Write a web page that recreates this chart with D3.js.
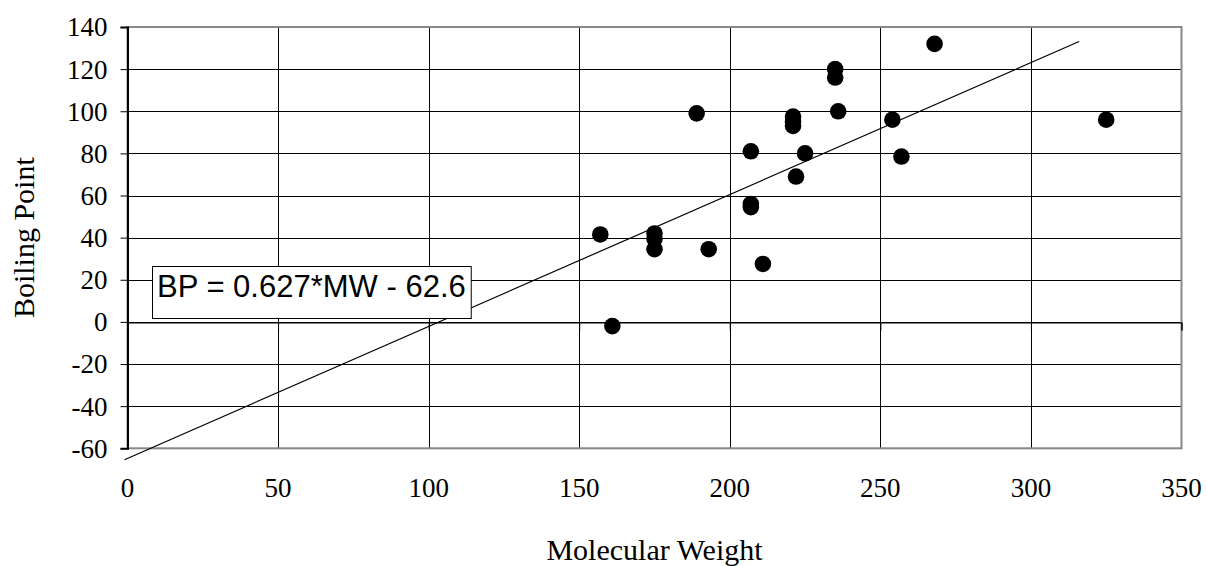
<!DOCTYPE html>
<html lang="en">
<head>
	<meta charset="utf-8">
	<script src='https://d3js.org/d3.v7.min.js'></script>
	<style>
		body { margin: 0; background: #fff; }
		svg { display: block; }
	</style>
</head>
<body>
	<script>
		var width = 1206,
			height = 566;

		// data
		var mw = [189, 207, 268, 235, 235, 236, 221, 221, 221, 225, 222, 254, 257, 325,
			157, 175, 175, 175, 193, 207, 207, 211, 161];
		var bp = [99, 81, 132, 120, 116, 100, 97.5, 95, 93, 80, 69, 96, 78.5, 96,
			41.5, 42, 39.5, 34.5, 34.5, 56, 54.5, 27.5, -2];
		var trendMW = [-1, 316];
		var trendBP = [-65.4, 133.1];
		var xTicks = [0, 50, 100, 150, 200, 250, 300, 350];
		var yTicks = [-60, -40, -20, 0, 20, 40, 60, 80, 100, 120, 140];
		var fitLabel = 'BP = 0.627*MW - 62.6';

		var serif = "'Times New Roman', 'Liberation Serif', serif";
		var sans = "Arial, 'Liberation Sans', sans-serif";

		var svg = d3.select('body')
			.append('svg')
			.attr('width', width)
			.attr('height', height);

		var x = d3.scaleLinear().domain([0, 350]).range([127.5, 1181.5]);
		var y = d3.scaleLinear().domain([-60, 140]).range([448.3, 27]);

		// grid
		svg.append('g').selectAll('line')
			.data(yTicks)
			.join('line')
			.attr('x1', x(0)).attr('x2', x(350))
			.attr('y1', function(d) { return Math.round(y(d)) + 0.5; })
			.attr('y2', function(d) { return Math.round(y(d)) + 0.5; })
			.attr('stroke', '#000').attr('stroke-width', 1);

		svg.append('g').selectAll('line')
			.data(xTicks.slice(1, -1))
			.join('line')
			.attr('x1', function(d) { return Math.round(x(d)) + 0.5; })
			.attr('x2', function(d) { return Math.round(x(d)) + 0.5; })
			.attr('y1', y(140)).attr('y2', y(-60))
			.attr('stroke', '#000').attr('stroke-width', 1);

		// plot border
		svg.append('rect')
			.attr('x', x(0)).attr('y', y(140))
			.attr('width', x(350) - x(0)).attr('height', y(-60) - y(140))
			.attr('fill', 'none').attr('stroke', '#888').attr('stroke-width', 2);

		// y axis (plain hyphen for negatives, like the original)
		var yAxis = d3.axisLeft(y).tickValues(yTicks).tickSize(7).tickPadding(13)
			.tickFormat(function(d) { return String(d); });
		svg.append('g')
			.attr('transform', 'translate(' + x(0) + ',0)')
			.call(yAxis)
			.call(function(g) {
				g.select('.domain').attr('stroke', '#000').attr('stroke-width', 2);
				g.selectAll('.tick line').attr('stroke', '#000');
				g.selectAll('text')
					.style('font-family', serif).style('font-size', '27px')
					.attr('fill', '#000').attr('dy', '0.33em');
			});

		// x axis crosses at 0, labels sit below the plot
		var xAxis = d3.axisBottom(x).tickValues(xTicks).tickSize(8).tickFormat('');
		svg.append('g')
			.attr('transform', 'translate(0,' + (Math.round(y(0)) + 0.5) + ')')
			.call(xAxis)
			.call(function(g) {
				g.select('.domain').attr('stroke', '#000').attr('stroke-width', 1);
				g.selectAll('.tick line').attr('stroke', '#000');
			});

		svg.append('g').selectAll('text')
			.data(xTicks)
			.join('text')
			.attr('x', function(d) { return x(d); })
			.attr('y', 497)
			.attr('text-anchor', 'middle')
			.style('font-family', serif).style('font-size', '27px')
			.text(function(d) { return d; });

		// axis titles
		svg.append('text')
			.attr('x', (x(0) + x(350)) / 2)
			.attr('y', 560)
			.attr('text-anchor', 'middle')
			.style('font-family', serif).style('font-size', '30px')
			.text('Molecular Weight');

		svg.append('text')
			.attr('transform', 'translate(33.5,' + (y(140) + y(-60)) / 2 + ') rotate(-90)')
			.attr('text-anchor', 'middle')
			.style('font-family', serif).style('font-size', '30px')
			.text('Boiling Point');

		// trend line
		var line = d3.line()
			.x(function(d) { return x(d[0]); })
			.y(function(d) { return y(d[1]); });
		svg.append('path')
			.datum(d3.zip(trendMW, trendBP))
			.attr('d', line)
			.attr('fill', 'none')
			.attr('stroke', '#000')
			.attr('stroke-width', 1.2);

		// points
		svg.append('g').selectAll('circle')
			.data(d3.zip(mw, bp))
			.join('circle')
			.attr('cx', function(d) { return x(d[0]); })
			.attr('cy', function(d) { return y(d[1]); })
			.attr('r', 8.3)
			.attr('fill', '#000');

		// fit equation box
		var box = svg.append('g');
		var boxRect = box.append('rect')
			.attr('x', 152.5).attr('y', 266.5)
			.attr('height', 52)
			.attr('fill', '#fff').attr('stroke', '#000').attr('stroke-width', 1);
		var boxText = box.append('text')
			.attr('x', 157).attr('y', 297)
			.style('font-family', sans).style('font-size', '31px')
			.text(fitLabel);
		boxRect.attr('width', boxText.node().getComputedTextLength() + 10);

		console.log('ready..');
	</script>
</body>
</html>
